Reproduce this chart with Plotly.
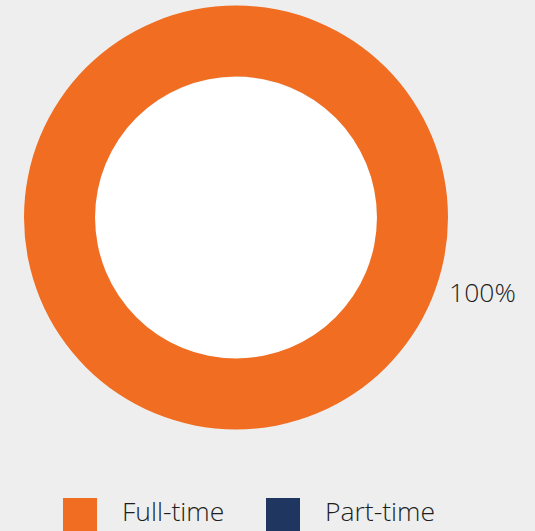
import plotly.graph_objects as go

categories = ["Full-time", "Part-time"]
values = [100, 0]
colors = ["#f06d21", "#1e3660"]

W, H = 535, 531
total = sum(values)

fig = go.Figure(go.Pie(
    labels=categories,
    values=values,
    hole=0.665,
    sort=False,
    direction="clockwise",
    marker=dict(colors=colors, line=dict(width=0)),
    textinfo="none",
    hoverinfo="label+percent",
    showlegend=False,
    domain=dict(x=[24 / W, 448 / W], y=[1 - 430 / H, 1 - 5 / H]),
))

# hole fill (white centre)
fig.add_shape(type="circle", xref="paper", yref="paper",
              x0=(236 - 141) / W, x1=(236 + 141) / W,
              y0=1 - (218 + 141) / H, y1=1 - (218 - 141) / H,
              fillcolor="white", line=dict(width=0), layer="below")

font = dict(family="Open Sans", size=26.5, color="#1e1e1e", weight=300)

# percentage label
pct = f"{round(values[0] / total * 100)}%"
fig.add_annotation(x=482 / W, y=1 - 292 / H, xref="paper", yref="paper",
                   text=pct, showarrow=False, xanchor="center", yanchor="middle",
                   font=font)

# custom legend
leg_x = [63, 266]
for i, (cat, col) in enumerate(zip(categories, colors)):
    x0 = leg_x[i]
    fig.add_shape(type="rect", xref="paper", yref="paper",
                  x0=x0 / W, x1=(x0 + 34) / W,
                  y0=1 - 533 / H, y1=1 - 498 / H,
                  fillcolor=col, line=dict(width=0))
    fig.add_annotation(x=(x0 + 57) / W, y=1 - 511 / H, xref="paper", yref="paper",
                       text=cat, showarrow=False, xanchor="left", yanchor="middle",
                       font=font)

fig.update_layout(
    width=W, height=H,
    margin=dict(l=0, r=0, t=0, b=0),
    paper_bgcolor="#eeeeee",
    plot_bgcolor="#eeeeee",
)

fig.write_html("out.html", config={"displayModeBar": False},
               post_script="document.body.style.margin='0';")
